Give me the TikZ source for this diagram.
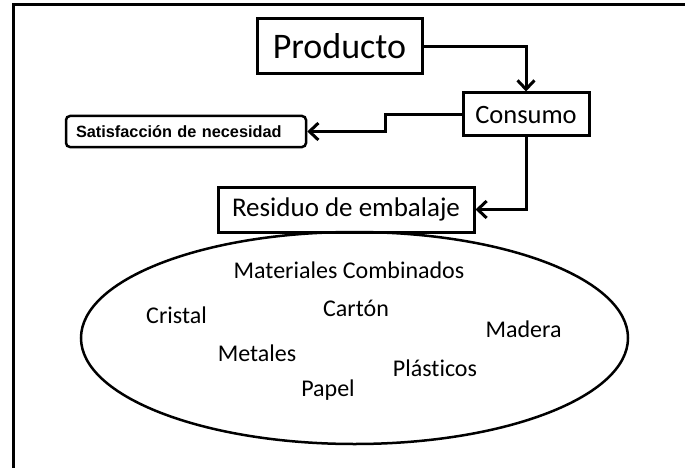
\documentclass[tikz,border=0pt]{standalone}
\usepackage{fontspec}
\setmainfont{Carlito}[Ligatures=CommonOff]
\newfontfamily\arialfont{Liberation Sans}
\usetikzlibrary{arrows.meta,shapes.geometric}
\begin{document}
\begin{tikzpicture}[x=1pt,y=-1pt,
  boxnode/.style={draw,line width=3pt,inner sep=0pt,align=center},
  conn/.style={line width=3pt,-{Straight Barb[length=9pt,width=17pt,line width=3pt]}},
  mat/.style={anchor=base,inner sep=0pt,font=\fontsize{24}{28}\selectfont},
  framel/.style={line width=3pt}]
\useasboundingbox (0,0) rectangle (685,468);
% frame
\coordinate (ftl) at (13.5,4.5);
\coordinate (ftr) at (685,4.5);
\coordinate (fbl) at (13.5,468);
\draw[framel] (ftr) -- (ftl) -- (fbl);
% boxes
\node[boxnode,minimum width=165pt,minimum height=55pt,font=\fontsize{36}{40}\selectfont] (prod) at (339.5,46.5) {Producto};
\node[boxnode,minimum width=126pt,minimum height=43pt,font=\fontsize{26.5}{30}\selectfont] (cons) at (526,114.5) {Consumo};
\node[boxnode,minimum width=256pt,minimum height=45pt,font=\fontsize{27}{31}\selectfont] (res) at (346,209.5) {Residuo de embalaje};
\node[draw,line width=2.5pt,rounded corners=4pt,minimum height=31pt,inner xsep=10pt,inner ysep=0pt,text width=220pt,align=left,font=\arialfont\bfseries\fontsize{16.3}{19}\selectfont] (sat) at (186,131.5) {Satisfacción de necesidad};
% ellipse
\node[ellipse,draw,line width=2.5pt,minimum width=547pt,minimum height=212pt,inner sep=0pt] (ell) at (354.5,338) {};
% materials
\node[mat] (mc) at (349,278) {Materiales Combinados};
\node[mat] (cr) at (176.5,323) {Cristal};
\node[mat] (ca) at (356,316) {Cartón};
\node[mat] (ma) at (523.5,337) {Madera};
\node[mat] (me) at (257,361) {Metales};
\node[mat] (pl) at (435,376) {Plásticos};
\node[mat] (pa) at (328,396) {Papel};
% connectors
\coordinate (k) at (385,0);
\draw[conn] (prod.east) -| (cons.north);
\draw[conn] (cons.west) -| (k |- sat.east) -- (sat.east);
\draw[conn] (cons.south) |- (res.east);
\end{tikzpicture}
\end{document}
